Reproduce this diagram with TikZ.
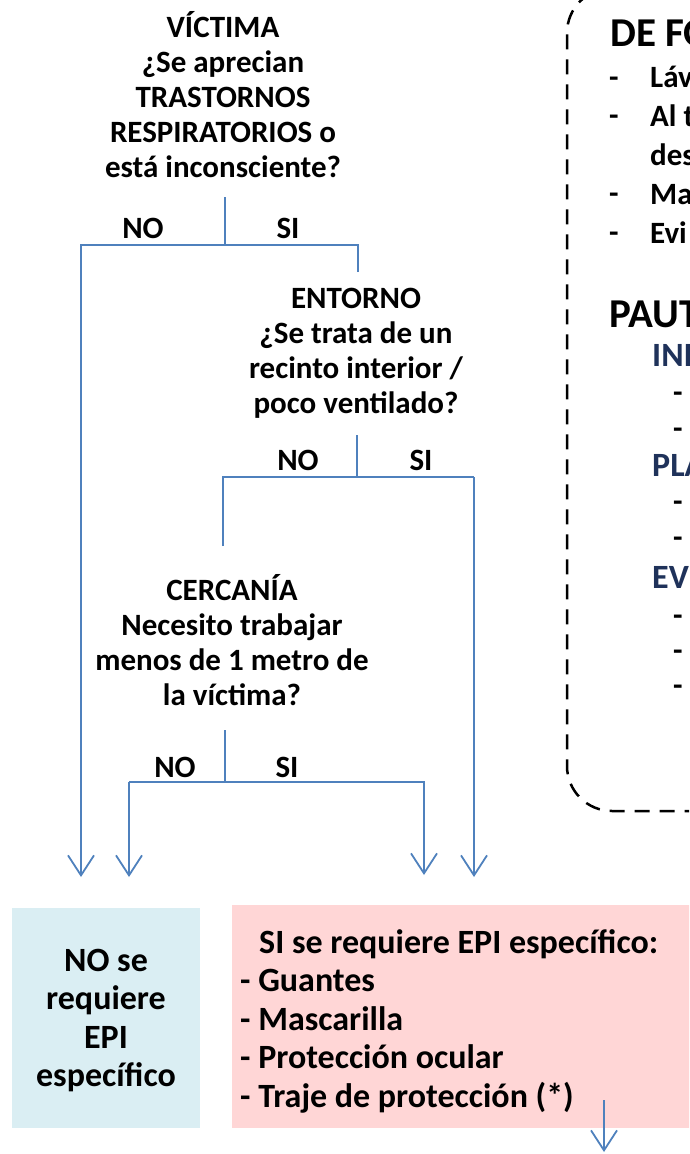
\documentclass[tikz,border=0pt]{standalone}
\usepackage{fontspec}
\setmainfont{Carlito}
\usetikzlibrary{arrows.meta}
\definecolor{flowblue}{RGB}{79,129,189}
\definecolor{nobg}{RGB}{218,238,243}
\definecolor{sibg}{RGB}{255,214,214}
\definecolor{navy}{RGB}{31,50,90}
\newcommand{\topline}{\rule{0pt}{29pt}}
\begin{document}
\begin{tikzpicture}[x=1pt,y=-1pt,
    question/.style={anchor=north,align=center,inner sep=0pt,
      font=\bfseries\fontsize{31}{35}\selectfont},
    answer/.style={anchor=base,inner sep=0pt,font=\bfseries\fontsize{31}{34}\selectfont},
    flowline/.style={draw=flowblue,line width=1.8pt},
    flowarrow/.style={flowline,-{Straight Barb[length=20pt,width=26pt]}},
    result/.style={inner sep=0pt,font=\bfseries\fontsize{34}{38.5}\selectfont},
    headline/.style={anchor=base west,inner sep=0pt,font=\bfseries\fontsize{41}{44}\selectfont},
    subhead/.style={anchor=base west,inner sep=0pt,text=navy,font=\bfseries\fontsize{34}{36}\selectfont},
    item/.style={anchor=base west,inner sep=0pt,font=\bfseries\fontsize{31}{34}\selectfont}]
  \useasboundingbox (0,0) rectangle (689,1154);
  \clip (0,0) rectangle (689,1154);

  % questions
  \node[question] (victima) at (223,8)
    {\topline VÍCTIMA\\¿Se aprecian\\TRASTORNOS\\RESPIRATORIOS o\\está inconsciente?};
  \node[question] (entorno) at (356,279)
    {\topline ENTORNO\\¿Se trata de un\\recinto interior /\\poco ventilado?};
  \node[question] (cercania) at (232,571)
    {\topline CERCANÍA\\Necesito trabajar\\menos de 1 metro de\\la víctima?};

  % branch labels
  \node[answer] (vno) at (143,238) {NO};
  \node[answer] (vsi) at (288,238) {SI};
  \node[answer] (eno) at (298,470) {NO};
  \node[answer] (esi) at (421,470) {SI};
  \node[answer] (cno) at (175,777) {NO};
  \node[answer] (csi) at (287,777) {SI};

  % junctions
  \coordinate (vtop) at (225,197);  \coordinate (vfork) at (225,245);
  \coordinate (vleft) at (81,245);  \coordinate (vright) at (358,245);
  \coordinate (vend) at (358,272);
  \coordinate (etop) at (357,435);  \coordinate (efork) at (357,477);
  \coordinate (eleft) at (223,477); \coordinate (eright) at (474,477);
  \coordinate (eend) at (223,546);
  \coordinate (ctop) at (225,730);  \coordinate (cfork) at (225,782);
  \coordinate (cleft) at (129,782); \coordinate (cright) at (424,782);
  \coordinate (tip1) at (81,877);   \coordinate (tip2) at (129,877);
  \coordinate (tip3) at (424,875);  \coordinate (tip4) at (474,877);

  \draw[flowline] (vtop) -- (vfork);
  \draw[flowarrow] (vend) -- (vright) -- (vleft) -- (tip1);
  \draw[flowline] (etop) -- (efork);
  \draw[flowline] (eend) -- (eleft) -- (eright);
  \draw[flowarrow] (eright) -- (tip4);
  \draw[flowline] (ctop) -- (cfork);
  \draw[flowarrow] (tip2 |- cleft) -- (tip2);
  \draw[flowarrow] (cleft) -- (cright) -- (tip3);

  % results
  \node[fill=nobg,minimum width=188pt,minimum height=220pt] (nobox) at (106,1018) {};
  \node[result,anchor=north,align=center] (notext) at (106,942)
    {\topline NO se\\requiere\\EPI\\específico};
  \node[fill=sibg,minimum width=480pt,minimum height=223pt,anchor=north west] (sibox)
    at (232,905) {};
  \node[result,anchor=north west,align=left] (silist) at (240,924)
    {\topline\hspace*{19pt}SI se requiere EPI específico:\\- Guantes\\- Mascarilla\\- Protección ocular\\- Traje de protección (*)};
  \coordinate (sout) at (604,1100); \coordinate (sdown) at (604,1152);
  \draw[flowarrow] (sout) -- (sdown);

  % general measures panel
  \draw[line width=2.5pt,dash pattern=on 15pt off 10pt,rounded corners=45pt]
    (740,-12) -- (567,-12) -- (567,811) -- (740,811);
  \node[headline] (general) at (610,46) {DE FO};
  \foreach \txt [count=\i] in {Láv,Al t,des,Ma,Evi} {
    \node[item] (g\i) at (650,{48+39*\i}) {\txt};
  }
  \foreach \y in {87,125,203,242} \node[item] at (609,\y) {-};
  \node[headline] (pautas) at (609,327) {PAUT};
  \node[subhead] (inicio) at (652,366) {INI};
  \node[subhead] (plan) at (652,476) {PLA};
  \node[subhead] (eval) at (652,588) {EV};
  \foreach \y in {402,438,511,547,625,660,695} \node[item] at (673,\y) {-};
\end{tikzpicture}
\end{document}
